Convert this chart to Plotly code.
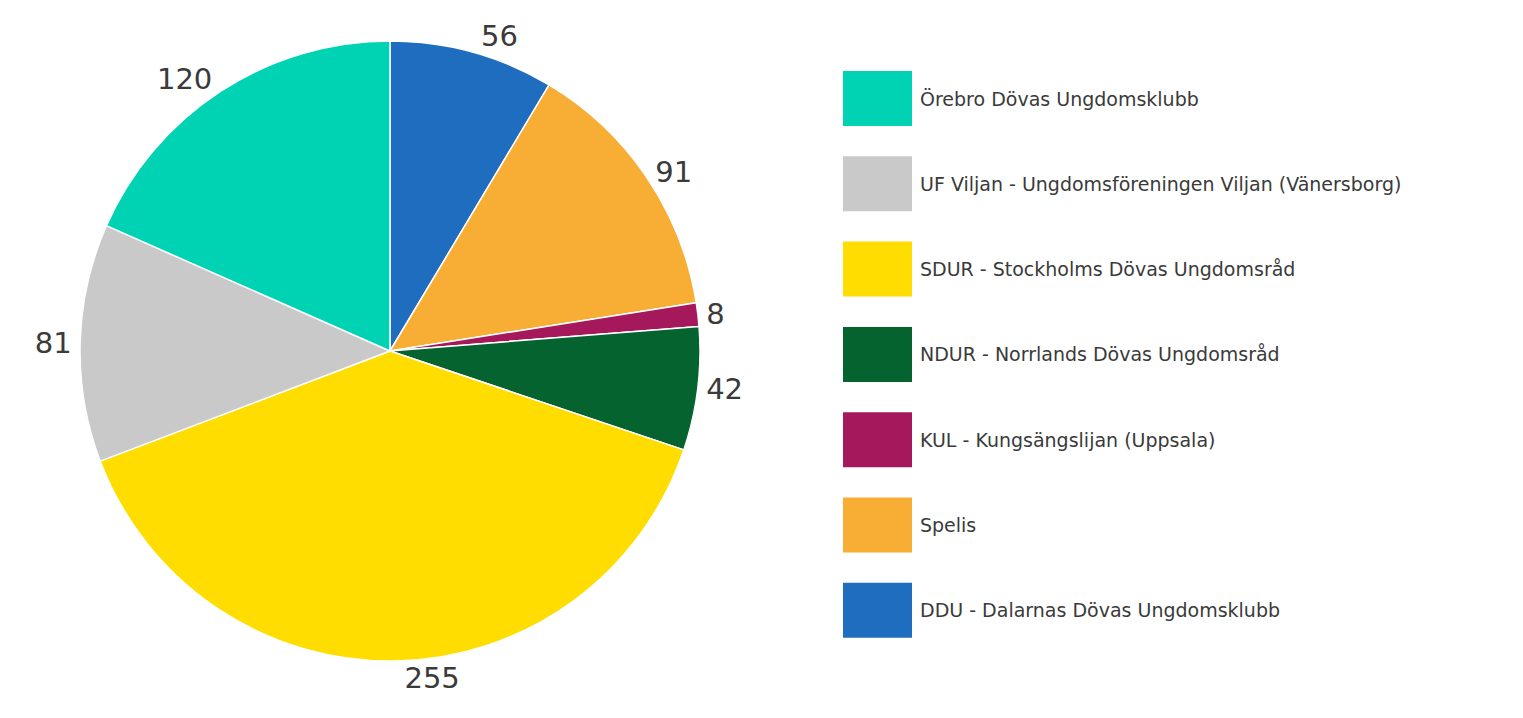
import plotly.graph_objects as go

# Legend order (top to bottom)
labels = [
    "Örebro Dövas Ungdomsklubb",
    "UF Viljan - Ungdomsföreningen Viljan (Vänersborg)",
    "SDUR - Stockholms Dövas Ungdomsråd",
    "NDUR - Norrlands Dövas Ungdomsråd",
    "KUL - Kungsängslijan (Uppsala)",
    "Spelis",
    "DDU - Dalarnas Dövas Ungdomsklubb",
]
values = [120, 81, 255, 42, 8, 91, 56]
colors = ["#00D3B3", "#C9C9C9", "#FFDD00", "#04632F", "#A5195C", "#F8AE35", "#1F6DBE"]

W, H = 1523, 718
FONT = "DejaVu Sans"
TEXT_COLOR = "#3a3a3a"

# Pie drawn clockwise from 12 o'clock, starting with the last legend entry
fig = go.Figure(go.Pie(
    labels=labels[::-1],
    values=values[::-1],
    sort=False,
    direction="clockwise",
    rotation=0,
    marker=dict(colors=colors[::-1], line=dict(color="white", width=1.5)),
    textinfo="value",
    textposition="outside",
    textfont=dict(family=FONT, size=29, color=TEXT_COLOR),
    showlegend=False,
    domain=dict(x=[80 / W, 700 / W], y=[(H - 661) / H, (H - 41) / H]),
    hoverinfo="label+value",
))

# Custom legend with large swatches
legend_x0, legend_x1 = 843 / W, 912 / W
row_top0 = 71
row_step = 85.3
sw_h = 55
shapes = []
annotations = []
for i, (lab, col) in enumerate(zip(labels, colors)):
    top = row_top0 + i * row_step
    shapes.append(dict(
        type="rect", xref="paper", yref="paper",
        x0=legend_x0, x1=legend_x1,
        y0=(H - top - sw_h) / H, y1=(H - top) / H,
        fillcolor=col, line=dict(width=0),
    ))
    annotations.append(dict(
        xref="paper", yref="paper",
        x=918 / W, y=(H - top - sw_h / 2) / H,
        xanchor="left", yanchor="middle",
        text=lab, showarrow=False,
        font=dict(family=FONT, size=19, color=TEXT_COLOR),
    ))

fig.update_layout(
    width=W, height=H,
    margin=dict(l=0, r=0, t=0, b=0),
    paper_bgcolor="white",
    plot_bgcolor="white",
    shapes=shapes,
    annotations=annotations,
)

fig.write_html(
    "out.html",
    config={"displayModeBar": False},
    post_script="document.body.style.margin='0';",
)
